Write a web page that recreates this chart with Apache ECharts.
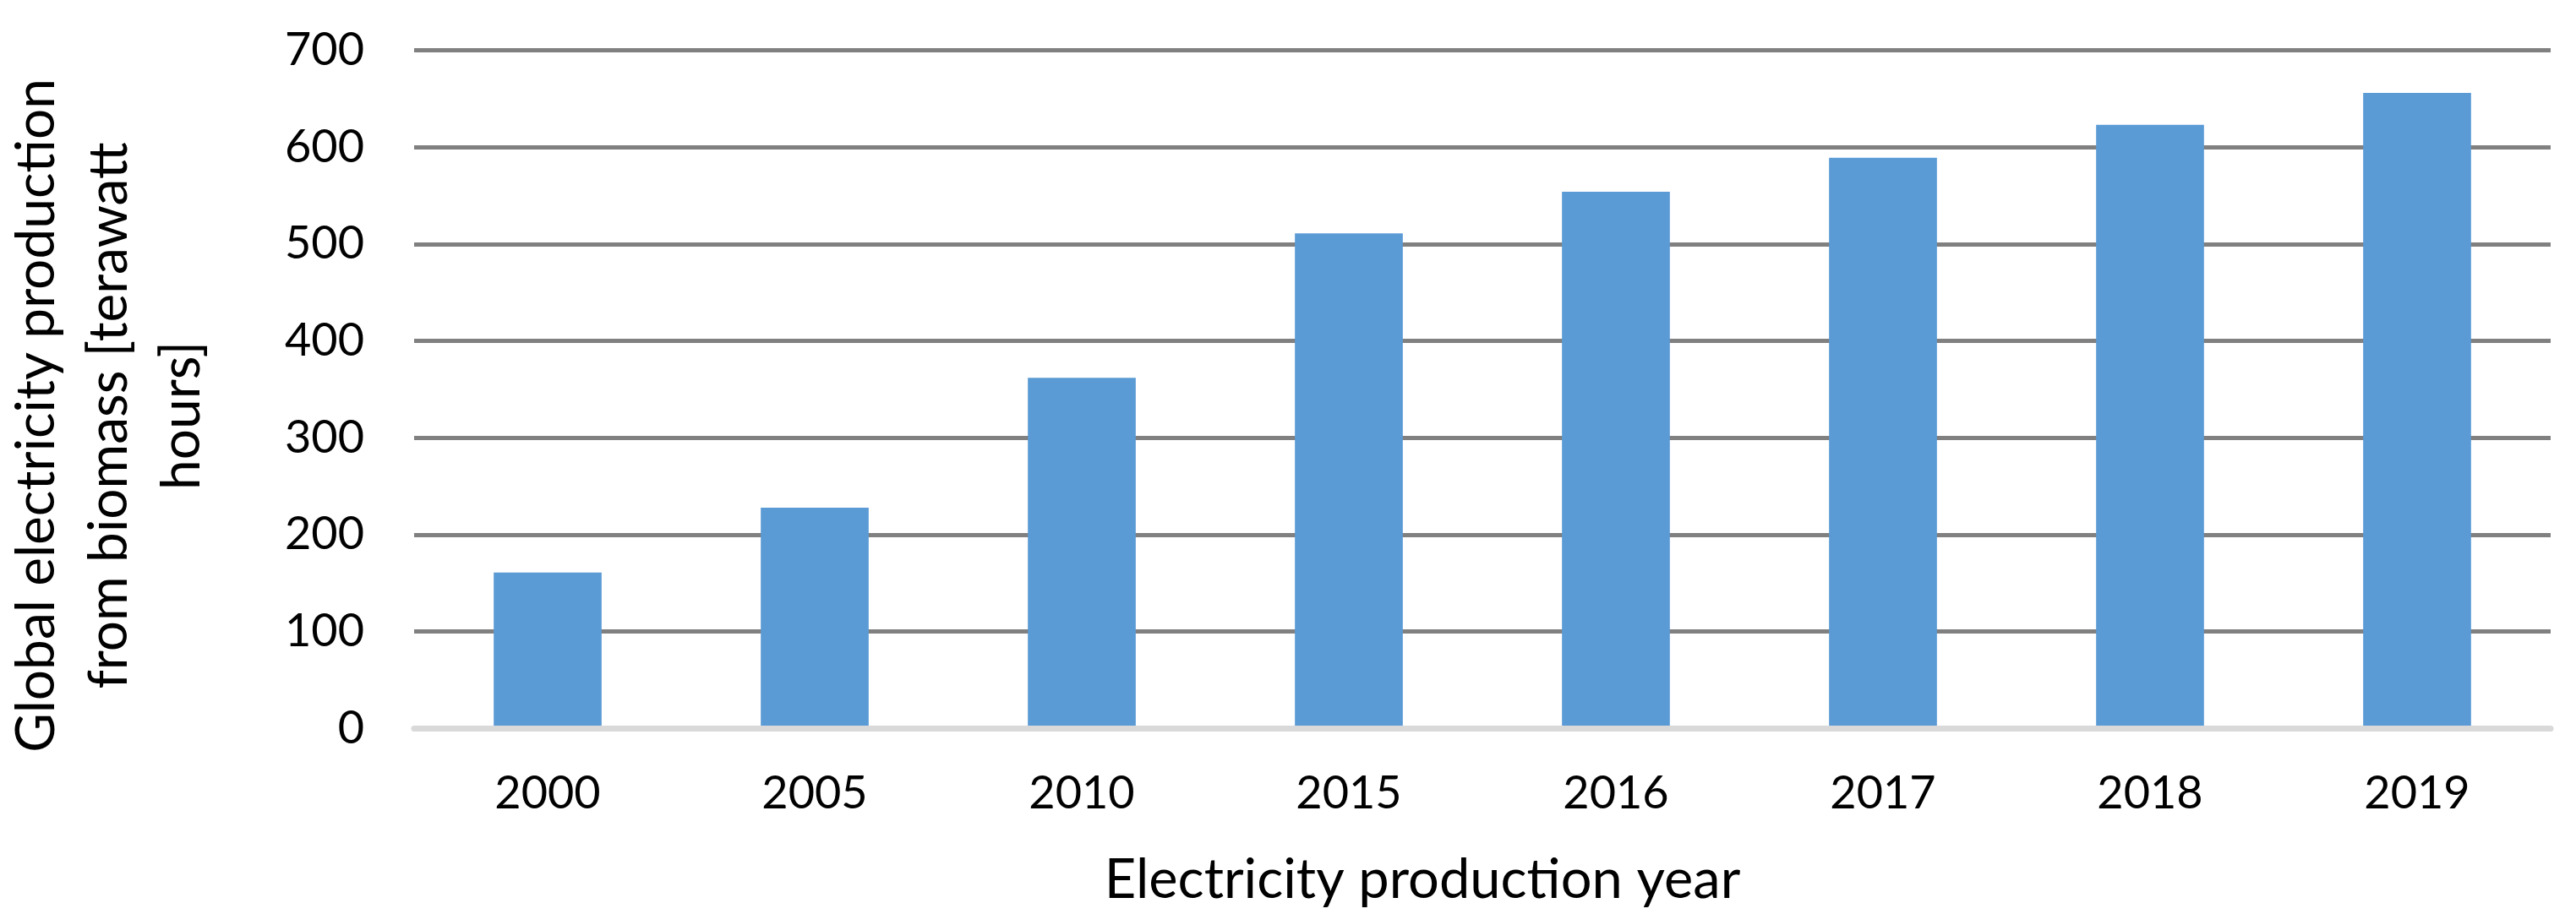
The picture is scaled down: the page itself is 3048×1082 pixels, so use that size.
<!DOCTYPE html>
<html>
<head>
<meta charset="utf-8">
<script src="https://cdn.jsdelivr.net/npm/echarts@6/dist/echarts.min.js"></script>
<style>
html,body{margin:0;padding:0;background:#fff;}
#chart{width:3048px;height:1082px;}
</style>
</head>
<body>
<div id="chart"></div>
<script>
const categories = ['2000', '2005', '2010', '2015', '2016', '2017', '2018', '2019'];
const production = [161, 228, 362, 511, 554, 589, 623, 656];
const xAxisTitle = 'Electricity production year';
const yAxisTitle = 'Global electricity production\nfrom biomass [terawatt\nhours]';

const FONT = 'Lato';
const chart = echarts.init(document.getElementById('chart'), null, {renderer: 'canvas'});
chart.setOption({
  backgroundColor: '#ffffff',
  animation: false,
  grid: {left: 490, right: 30, top: 59.5, bottom: 219.6, containLabel: false, outerBoundsMode: 'none'},
  xAxis: {
    type: 'category',
    data: categories,
    z: 5,
    axisLine: {show: true, lineStyle: {color: '#d9d9d9', width: 7}},
    axisTick: {show: false},
    axisLabel: {fontFamily: FONT, fontSize: 54, color: '#000', margin: 50},
    splitLine: {show: false},
    name: xAxisTitle,
    nameLocation: 'middle',
    nameGap: 147,
    nameTextStyle: {fontFamily: FONT, fontSize: 65, color: '#000', padding: [0, 142, 0, 0]}
  },
  yAxis: {
    type: 'value',
    min: 0, max: 700, interval: 100,
    axisLine: {show: false},
    axisTick: {show: false},
    axisLabel: {fontFamily: FONT, fontSize: 54, color: '#000', margin: 59},
    splitLine: {show: true, showMinLine: false, lineStyle: {color: '#808080', width: 5}},
    name: yAxisTitle,
    nameLocation: 'middle',
    nameRotate: 90,
    nameGap: 232,
    nameTextStyle: {fontFamily: FONT, fontSize: 64, color: '#000', lineHeight: 86, align: 'center', padding: [0, 62, 0, 0]}
  },
  series: [{
    type: 'bar',
    data: production,
    barCategoryGap: '59.6%',
    itemStyle: {color: '#5b9bd5'}
  }]
});
</script>
</body>
</html>
